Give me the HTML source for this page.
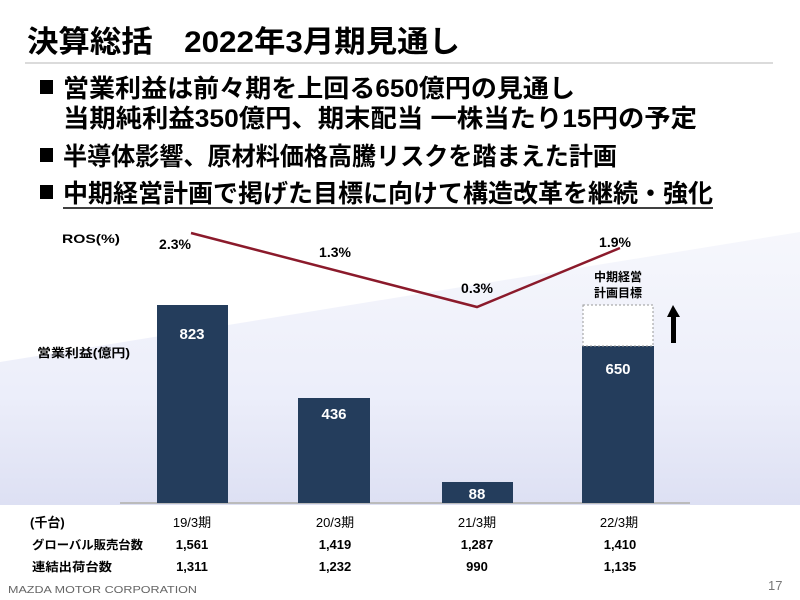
<!DOCTYPE html>
<html><head><meta charset="utf-8"><style>
body{margin:0;width:800px;height:600px;overflow:hidden;background:#fff;font-family:"Liberation Sans","Noto Sans CJK JP",sans-serif;}
</style></head><body>
<svg width="800" height="600" xmlns="http://www.w3.org/2000/svg" style="position:absolute;left:0;top:0">
<defs><linearGradient id="g" x1="0" y1="0" x2="0" y2="1">
<stop offset="0" stop-color="#f6f7fc"/><stop offset="0.6" stop-color="#eceefa"/><stop offset="1" stop-color="#dde0f3"/></linearGradient></defs>
<polygon points="0,362 800,232 800,505 0,505" fill="url(#g)"/>
<g font-family="Liberation Sans,Noto Sans CJK JP,sans-serif" font-weight="bold" fill="#000">
<text x="27" y="52" font-size="30" textLength="433" lengthAdjust="spacingAndGlyphs">決算総括　2022年3月期見通し</text>
<line x1="25" y1="63" x2="773" y2="63" stroke="#cfcfcf" stroke-width="1.5"/>
<g font-size="25">
<rect x="40" y="80" width="13" height="14"/>
<text x="63" y="97" textLength="512" lengthAdjust="spacingAndGlyphs">営業利益は前々期を上回る650億円の見通し</text>
<text x="63" y="127" textLength="634" lengthAdjust="spacingAndGlyphs">当期純利益350億円、期末配当 一株当たり15円の予定</text>
<rect x="40" y="148" width="13" height="14"/>
<text x="63" y="165" textLength="554" lengthAdjust="spacingAndGlyphs">半導体影響、原材料価格高騰リスクを踏まえた計画</text>
<rect x="40" y="185" width="13" height="14"/>
<text x="63" y="202" textLength="650" lengthAdjust="spacingAndGlyphs">中期経営計画で掲げた目標に向けて構造改革を継続・強化</text>
<line x1="63" y1="208" x2="713" y2="208" stroke="#000" stroke-width="1.5"/>
</g>
<line x1="120" y1="503" x2="690" y2="503" stroke="#bbb" stroke-width="2"/>
<g fill="#243d5c">
<rect x="157" y="305" width="71" height="198"/>
<rect x="298" y="398" width="72" height="105"/>
<rect x="442" y="482" width="71" height="21"/>
<rect x="582" y="346" width="72" height="157"/>
</g>
<rect x="583" y="305" width="70" height="41" fill="#fff" stroke="#999" stroke-dasharray="2,2"/>
<polygon points="673,305 667,317 671,317 671,343 676,343 676,317 680,317" fill="#000"/>
<g fill="#fff" font-size="15" text-anchor="middle">
<text x="192" y="339">823</text><text x="334" y="419">436</text><text x="477" y="499">88</text><text x="618" y="374">650</text>
</g>
<polyline points="191,233 477,307 620,248" fill="none" stroke="#8b1a2b" stroke-width="2.5"/>
<g font-size="14" text-anchor="middle">
<text x="175" y="249">2.3%</text><text x="335" y="257">1.3%</text><text x="477" y="293">0.3%</text><text x="615" y="247">1.9%</text>
</g>
<g font-size="12">
<text x="62" y="243" textLength="58" lengthAdjust="spacingAndGlyphs">ROS(%)</text>
<text x="37" y="357" textLength="93" lengthAdjust="spacingAndGlyphs">営業利益(億円)</text>
<text x="618" y="281" text-anchor="middle">中期経営</text>
<text x="618" y="297" text-anchor="middle">計画目標</text>
<text x="30" y="527" font-size="13">(千台)</text>
<text x="32" y="549" textLength="111" lengthAdjust="spacingAndGlyphs">グローバル販売台数</text>
<text x="32" y="571" textLength="80" lengthAdjust="spacingAndGlyphs">連結出荷台数</text>
</g>
<g font-size="13" text-anchor="middle" font-weight="normal">
<text x="192" y="527">19/3期</text><text x="335" y="527">20/3期</text><text x="477" y="527">21/3期</text><text x="619" y="527">22/3期</text>
</g>
<g font-size="13" text-anchor="middle">
<text x="192" y="549">1,561</text><text x="335" y="549">1,419</text><text x="477" y="549">1,287</text><text x="620" y="549">1,410</text>
<text x="192" y="571">1,311</text><text x="335" y="571">1,232</text><text x="477" y="571">990</text><text x="620" y="571">1,135</text>
</g>
</g>
<text x="8" y="593" font-family="Liberation Sans,sans-serif" font-size="10.5" fill="#666" textLength="189" lengthAdjust="spacingAndGlyphs">MAZDA MOTOR CORPORATION</text>
<text x="768" y="590" font-family="Liberation Sans,sans-serif" font-size="13" fill="#777">17</text>
</svg>
</body></html>
